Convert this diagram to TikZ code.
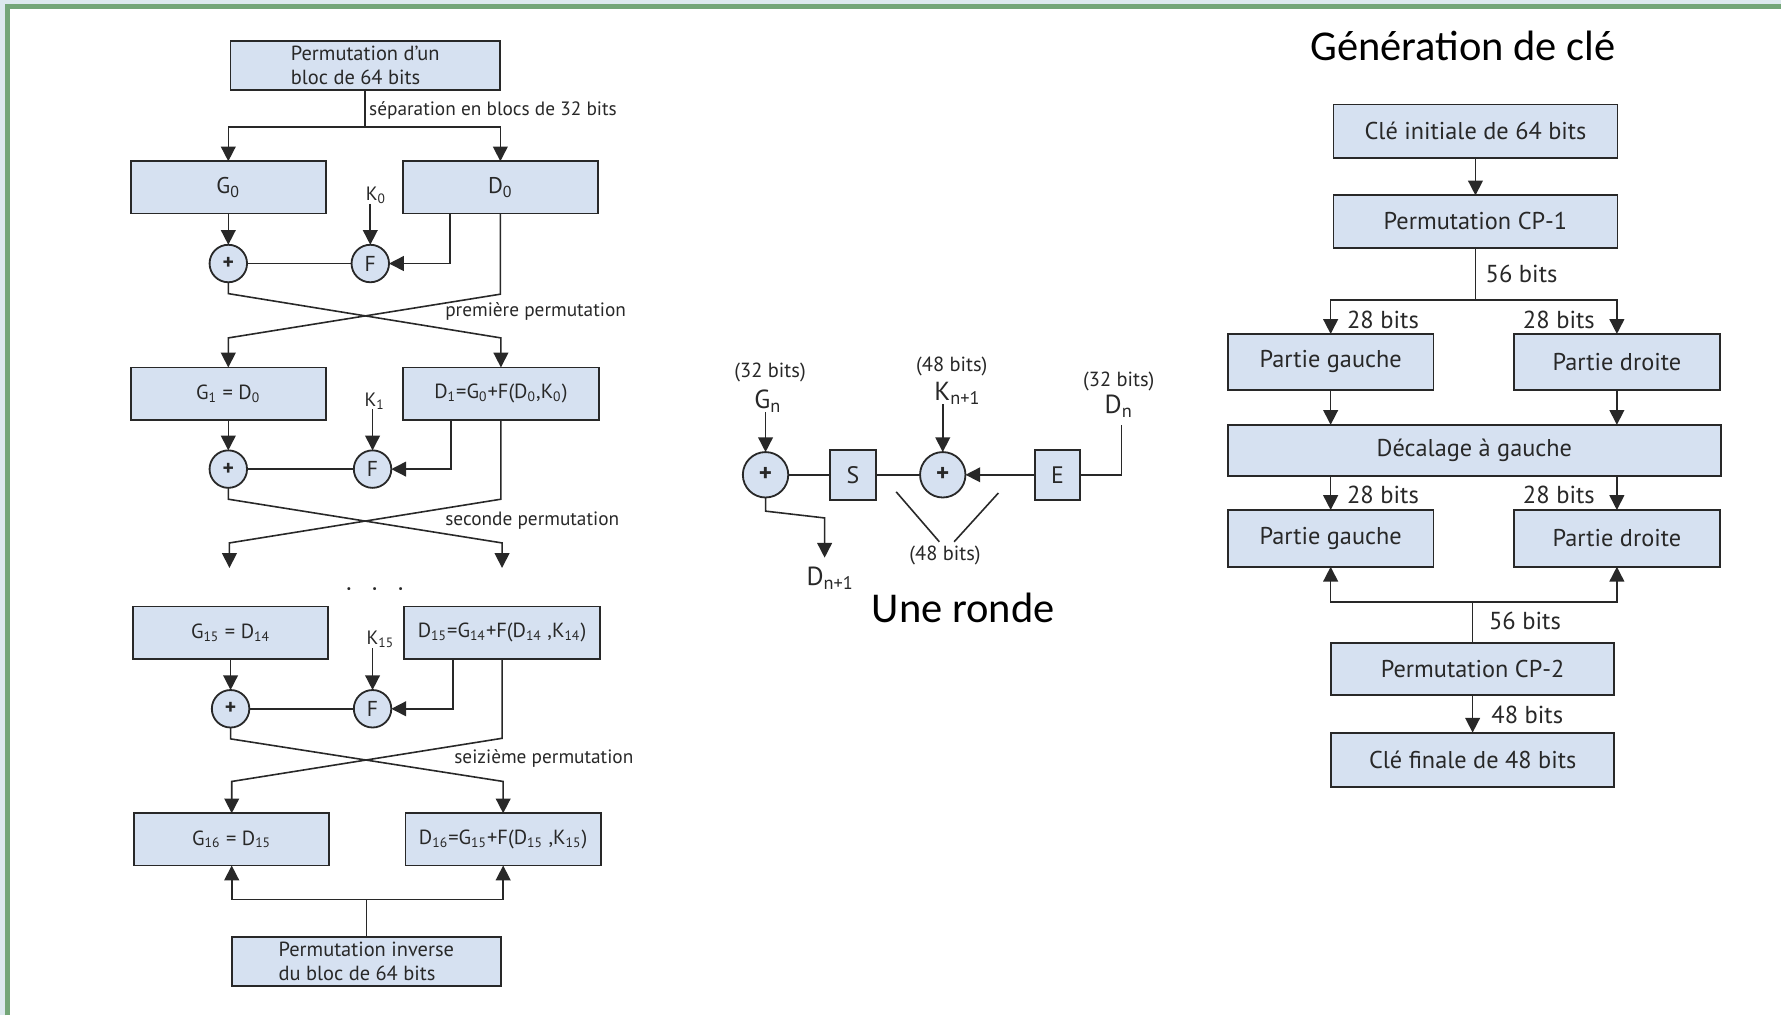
\documentclass[tikz,border=0pt]{standalone}
\usepackage{fontspec}
\setmainfont{PT Sans}
\newfontfamily\titlefont{Carlito}
\usetikzlibrary{arrows.meta,calc}
\definecolor{boxblue}{RGB}{214,225,241}
\definecolor{framegreen}{RGB}{116,166,120}
\definecolor{pageblue}{RGB}{221,233,238}
\definecolor{ink}{RGB}{40,40,40}
\newcommand\lowix[1]{\textsubscript{#1}}

\begin{document}
\begin{tikzpicture}[x=0.5pt,y=-0.5pt,
  every node/.style={inner sep=0pt, outer sep=0pt, text=ink},
  blk/.style={draw=ink, fill=boxblue, line width=0.8pt, font=\fontsize{9}{10.5}\selectfont},
  half/.style={blk, minimum width=86pt, minimum height=23pt},
  wide/.style={blk, minimum width=118.5pt, minimum height=21.5pt, align=left},
  kbox/.style={blk, font=\fontsize{10.7}{12}\selectfont},
  op/.style={circle, draw=ink, fill=boxblue, line width=0.8pt, minimum size=16.5pt, font=\fontsize{9.5}{10}\selectfont},
  bigop/.style={op, minimum size=20pt, font=\fontsize{11}{12}\selectfont},
  wire/.style={draw=ink, line width=0.7pt},
  arr/.style={wire, -{Triangle[length=6.5pt,width=6.5pt]}},
  lbl/.style={font=\fontsize{8.5}{10}\selectfont},
  midlbl/.style={font=\fontsize{9}{10}\selectfont},
  klbl/.style={font=\fontsize{8.5}{9}\selectfont},
  sym/.style={font=\fontsize{11.5}{13}\selectfont},
  bits/.style={font=\fontsize{10.8}{12}\selectfont},
  heading/.style={font=\titlefont\fontsize{18.7}{22}\selectfont, text=black},
]
\useasboundingbox (0,0) rectangle (1568,894);
% page and frame
\fill[pageblue] (0,0) rectangle (1568,894);
\fill[white] (7,6) rectangle (1568,894);
\draw[framegreen, line width=2.2pt] (7,894) -- (7,6) -- (1568,6);

% ---------------- DES rounds ----------------
\node[wide] (ip) at (321.5,57.5) {Permutation d’un\\bloc de 64 bits};
\draw[wire] (ip.south) -- ++(0,33) coordinate (sp);
\node[lbl, anchor=west] (seplbl) at (325,97) {séparation en blocs de 32 bits};

% round 0
\node[half, font=\fontsize{10}{11}\selectfont] (G0) at (201,165) {G\lowix{0}};
\node[half, font=\fontsize{10}{11}\selectfont] (D0) at (440.5,165) {D\lowix{0}};
\draw[arr] (sp) -| (G0.north);
\draw[arr] (sp) -| (D0.north);
\node[op] (x0) at (201,232) {\textbf{+}};
\node[op] (f0) at (326,232) {F};
\node[klbl] (k0) at (331,172) {K\lowix{0}};
\draw[arr] (G0.south) -- (x0);
\draw[arr] (k0.south -| f0) -- (f0);
\draw[arr] ([xshift=-22.25pt]D0.south) |- (f0);
\draw[wire] (x0) -- (f0);

% round 1
\node[half] (G1) at (201,346.5) {G\lowix{1} = D\lowix{0}};
\node[half] (D1) at (441,346.5) {D\lowix{1}=G\lowix{0}+F(D\lowix{0},K\lowix{0})};
\draw[arr] (x0.south) -- ++(0,10) -- ([yshift=13pt]D1.north) -- (D1.north);
\draw[arr] (D0.south) -- ++(0,71) -- ([yshift=13pt]G1.north) -- (G1.north);
\node[lbl, anchor=west] (p1lbl) at (392,274) {première permutation};
\node[op] (x1) at (201,413) {\textbf{+}};
\node[op] (f1) at (328,413) {F};
\node[klbl] (k1) at (330,353) {K\lowix{1}};
\draw[arr] (G1.south) -- (x1);
\draw[arr] (k1.south -| f1) -- (f1);
\draw[arr] ([xshift=-22pt]D1.south) |- (f1);
\draw[wire] (x1) -- (f1);
\coordinate (e2l) at (202,500);
\coordinate (e2r) at (442,500);
\draw[arr] (x1.south) -- ++(0,10) -- ([yshift=11pt]e2r) -- (e2r);
\draw[arr] (D1.south) -- ++(0,70) -- ([yshift=11pt]e2l) -- (e2l);
\node[lbl, anchor=west] (p2lbl) at (392,458) {seconde permutation};
\node[font=\fontsize{11}{12}\selectfont] (dots) at (330,521) {·\hspace{8.5pt}·\hspace{8.5pt}·};

% round 15
\node[half] (G15) at (203,557) {G\lowix{15} = D\lowix{14}};
\node[half] (D15) at (442,557) {D\lowix{15}=G\lowix{14}+F(D\lowix{14} ,K\lowix{14})};
\node[op] (x15) at (203,624) {\textbf{+}};
\node[op] (f15) at (328,624) {F};
\node[klbl] (k15) at (335,563) {K\lowix{15}};
\draw[arr] (G15.south) -- (x15);
\draw[arr] (k15.south -| f15) -- (f15);
\draw[arr] ([xshift=-21.5pt]D15.south) |- (f15);
\draw[wire] (x15) -- (f15);

% round 16
\node[half] (G16) at (204,739) {G\lowix{16} = D\lowix{15}};
\node[half] (D16) at (443,739) {D\lowix{16}=G\lowix{15}+F(D\lowix{15} ,K\lowix{15})};
\draw[arr] (x15.south) -- ++(0,10) -- ([yshift=14pt]D16.north) -- (D16.north);
\draw[arr] (D15.south) -- ++(0,70) -- ([yshift=14pt]G16.north) -- (G16.north);
\node[lbl, anchor=west] (p16lbl) at (400,668) {seizième permutation};
\node[wide] (fp) at (322.5,846.5) {Permutation inverse\\du bloc de 64 bits};
\draw[wire] (fp.north) -- ++(0,-33) coordinate (jn);
\draw[arr] (jn) -| (G16.south);
\draw[arr] (jn) -| (D16.south);

% ---------------- one round ----------------
\node[bigop] (c1) at (674,418) {\textbf{+}};
\node[blk, minimum width=20pt, minimum height=22pt, font=\fontsize{10.5}{11}\selectfont] (S) at (751,418) {S};
\node[bigop] (c2) at (830,418) {\textbf{+}};
\node[blk, minimum width=20pt, minimum height=22pt, font=\fontsize{10.5}{11}\selectfont] (E) at (931,418) {E};
\node[midlbl] (gnbits) at (678,328) {(32 bits)};
\node[sym] (gn) at (676,353) {G\lowix{n}};
\node[midlbl] (knbits) at (838,323) {(48 bits)};
\node[sym] (kn) at (843,346) {K\lowix{n+1}};
\node[midlbl] (dnbits) at (985,336) {(32 bits)};
\node[sym] (dn) at (985,358) {D\lowix{n}};
\draw[arr] (gn.south -| c1) -- (c1);
\draw[arr] (kn.south -| c2) -- (c2);
\draw[wire] (c1) -- (S);
\draw[wire] (S) -- (c2);
\draw[arr] (E) -- (c2);
\draw[wire] (E.east) -| ([yshift=-3pt]dn.south -| 987.5,0);
\coordinate (dtip) at (726,491);
\draw[arr] (c1.south) -- ++(0,12) -- ++(52,6) -- (dtip);
\node[sym] (dn1) at (731,509) {D\lowix{n+1}};
\node[midlbl] (ebits) at (832,489) {(48 bits)};
\coordinate (vla) at (789,433);
\coordinate (vlb) at (827,477);
\coordinate (vra) at (879,434);
\coordinate (vrb) at (840,477);
\draw[wire] (vla) -- (vlb);
\draw[wire] (vra) -- (vrb);
\node[heading] (ronde) at (848,535) {Une ronde};

% ---------------- key schedule ----------------
\node[heading] (gen) at (1288,40) {Génération de clé};
\node[kbox, minimum width=125pt, minimum height=23.5pt] (ki) at (1299,115.5) {Clé initiale de 64 bits};
\node[kbox, minimum width=125pt, minimum height=23pt] (cp1) at (1299,195) {Permutation CP-1};
\draw[arr] (ki) -- (cp1);
\draw[wire] (cp1.south) -- ++(0,46) coordinate (ks);
\node[bits, anchor=west] (b56a) at (1308,241) {56 bits};
\node[kbox, minimum width=90.5pt, minimum height=24.5pt] (pg1) at (1171.5,318.5) {Partie gauche};
\node[kbox, minimum width=90.5pt, minimum height=24.5pt] (pd1) at (1423.5,318.5) {Partie droite};
\draw[arr] (ks) -| (pg1.north);
\draw[arr] (ks) -| (pd1.north);
\node[bits, anchor=west] (b28a) at (1186,282) {28 bits};
\node[bits, anchor=east] (b28b) at (1404,282) {28 bits};
\node[kbox, minimum width=217pt, minimum height=22.5pt] (dec) at (1298,396.5) {Décalage à gauche};
\draw[arr] (pg1.south) -- (pg1.south |- dec.north);
\draw[arr] (pd1.south) -- (pd1.south |- dec.north);
\node[kbox, minimum width=90.5pt, minimum height=25pt] (pg2) at (1171.5,474) {Partie gauche};
\node[kbox, minimum width=90.5pt, minimum height=25pt] (pd2) at (1423.5,474) {Partie droite};
\draw[arr] (dec.south -| pg2) -- (pg2.north);
\draw[arr] (dec.south -| pd2) -- (pd2.north);
\node[bits, anchor=west] (b28c) at (1186,436) {28 bits};
\node[bits, anchor=east] (b28d) at (1404,436) {28 bits};
\node[kbox, minimum width=124.5pt, minimum height=23pt] (cp2) at (1296.5,589) {Permutation CP-2};
\draw[wire] (cp2.north) -- ++(0,-36) coordinate (kj);
\draw[arr] (kj) -| (pg2.south);
\draw[arr] (kj) -| (pd2.south);
\node[bits, anchor=west] (b56b) at (1311,547) {56 bits};
\node[kbox, minimum width=124.5pt, minimum height=24pt] (cf) at (1296.5,669) {Clé finale de 48 bits};
\draw[arr] (cp2) -- (cf);
\node[bits, anchor=west] (b48) at (1313,629) {48 bits};
\end{tikzpicture}
\end{document}
